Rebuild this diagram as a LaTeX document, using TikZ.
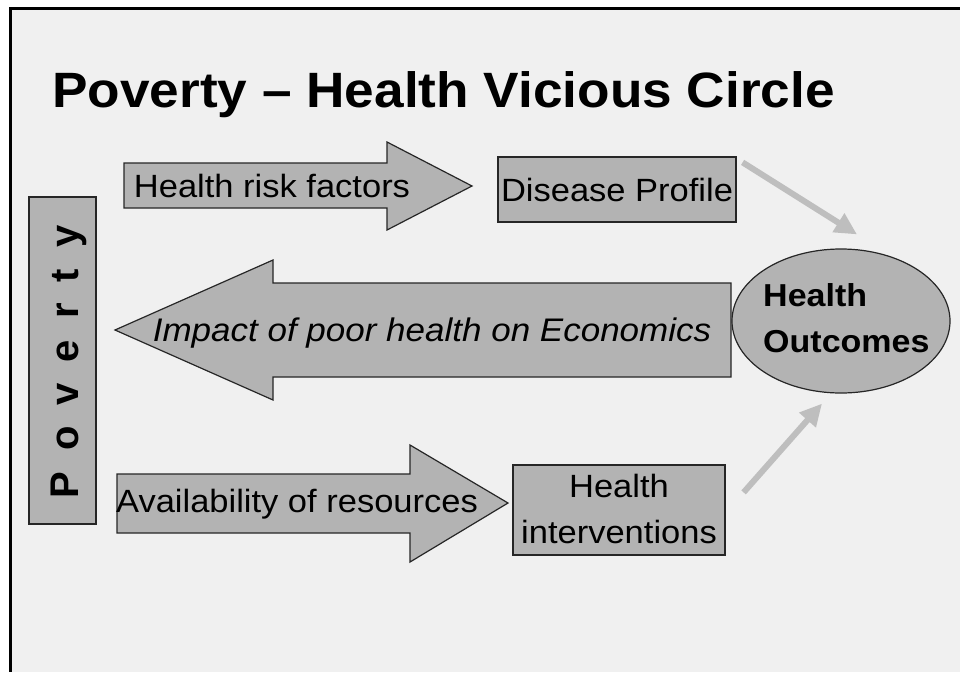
\documentclass[tikz,border=0pt]{standalone}
\usepackage{fontspec}
\setmainfont{Liberation Sans}
\usetikzlibrary{arrows.meta,shapes.geometric}

\definecolor{slidebg}{HTML}{F0F0F0}
\definecolor{shapefill}{HTML}{B3B3B3}
\definecolor{linkgray}{HTML}{BEBEBE}

% slightly flattened lettering, as on the slide
\newcommand\squash[1]{\scalebox{1}[0.933]{#1}}

\tikzset{
  blockshape/.style={draw=black!85, line width=1.2pt, fill=shapefill, line join=miter},
  boxnode/.style={blockshape, rectangle, inner sep=0pt},
  label34/.style={inner sep=0pt, font=\fontsize{34.5}{46}\selectfont},
  link/.style={draw=linkgray, line width=6pt, -{Triangle[length=22pt,width=21pt]}},
}

\begin{document}
\begin{tikzpicture}[x=1pt,y=-1pt]
  \useasboundingbox (0,0) rectangle (960,672);
  % slide background and frame
  \fill[white] (0,0) rectangle (960,672);
  \fill[slidebg] (10,8) rectangle (960,672);
  \draw[line width=3pt] (960,8) -- (10,8) -- (10,672);

  % title
  \node[anchor=base west, inner sep=0pt, font=\fontsize{53.2}{60}\selectfont\bfseries]
    (title) at (52,107) {\squash{Poverty – Health Vicious Circle}};

  % Poverty column
  \node[boxnode, minimum width=67pt, minimum height=327pt] (pov) at (62.5,360.5) {};
  \node[rotate=90, anchor=base, inner sep=0pt]
    (povtext) at (78,362) {\fontsize{40}{40}\selectfont\bfseries\spaceskip=21pt P o v e r t y};

  % block arrow: health risk factors
  \draw[blockshape] (124,163) -- (387,163) -- (387,142) -- (472,186)
        -- (387,230) -- (387,208) -- (124,208) -- cycle;
  \node[label34, anchor=base] (risk) at (272,197) {\squash{Health risk factors}};

  % disease profile box
  \node[boxnode, label34, minimum width=238pt, minimum height=65pt]
    (dp) at (617,189.5) {\squash{Disease Profile}};

  % block arrow: impact on economics
  \draw[blockshape] (731,283) -- (273,283) -- (273,260) -- (115,330)
        -- (273,400) -- (273,377) -- (731,377) -- cycle;
  \node[label34, anchor=base, font=\fontsize{35}{46}\selectfont\itshape]
    (impact) at (432,341) {\squash{Impact of poor health on Economics}};

  % health outcomes ellipse
  \node[blockshape, ellipse, minimum width=218pt, minimum height=144pt, inner sep=0pt]
    (ho) at (841,321) {};
  \node[label34, font=\fontsize{34}{46}\selectfont\bfseries, align=left, anchor=base west]
    (hotext) at (763,352) {\squash{Health}\\\squash{Outcomes}};

  % block arrow: availability of resources
  \draw[blockshape] (117,474) -- (410,474) -- (410,445) -- (508,503)
        -- (410,562) -- (410,533) -- (117,533) -- cycle;
  \node[label34, anchor=base] (avail) at (297,512) {\squash{Availability of resources}};

  % health interventions box
  \node[boxnode, minimum width=212pt, minimum height=90pt] (hi) at (619,510) {};
  \node[label34, align=center, anchor=base] (hitext) at (619,543)
    {\squash{Health}\\\squash{interventions}};

  % connectors into the outcomes ellipse
  \coordinate (dpout) at ([shift={(6,6)}]dp.north east);
  \coordinate (hoin1) at ([shift={(16,-14)}]ho.north);
  \coordinate (hiout) at ([shift={(18,28)}]hi.north east);
  \coordinate (hoin2) at ([shift={(-19,10)}]ho.south);
  \draw[link] (dpout) -- (hoin1);
  \draw[link] (hiout) -- (hoin2);
\end{tikzpicture}
\end{document}
